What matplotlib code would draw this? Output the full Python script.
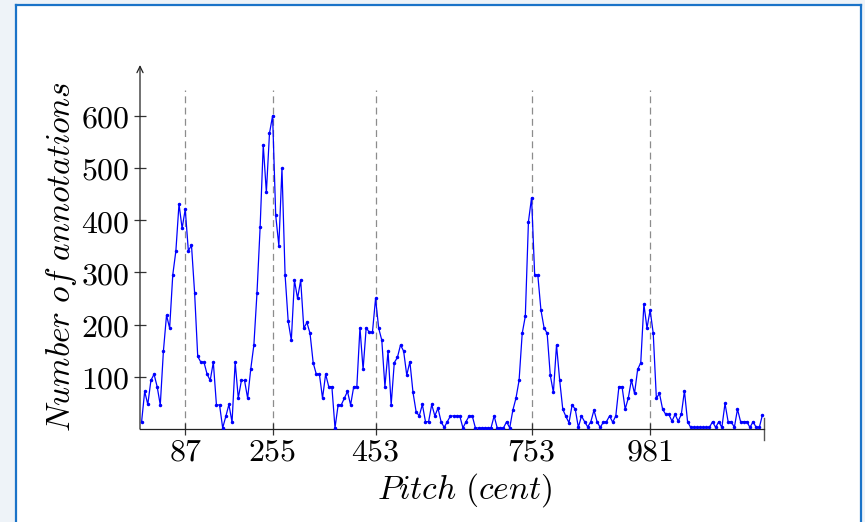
import numpy as np
import matplotlib
matplotlib.use('Agg')
import matplotlib.pyplot as plt

plt.rcParams['mathtext.fontset'] = 'cm'

# histogram of annotated pitches, 6 cent bins
counts_0 = [13, 72, 47, 93, 105, 81, 46, 149, 218, 193, 295, 341, 431, 384, 421, 341, 352, 261, 139, 128,
            128, 105, 93, 128, 46, 46, 2, 24, 47, 13, 128, 59, 93, 93, 59, 115, 161, 261, 386, 544]
counts_1 = [453, 566, 600, 409, 351, 499, 295, 206, 170, 285, 250, 285, 193, 204, 183, 127, 105, 105, 59, 105,
            81, 81, 2, 46, 46, 59, 72, 46, 81, 81, 194, 114, 194, 185, 185, 250, 193, 170, 81, 149]
counts_2 = [46, 127, 137, 161, 149, 103, 129, 70, 33, 25, 47, 14, 14, 47, 25, 40, 14, 3, 14, 25,
            25, 25, 25, 2, 14, 25, 25, 2, 2, 2, 2, 2, 2, 25, 2, 2, 2, 14, 2, 36]
counts_3 = [59, 93, 183, 216, 397, 443, 295, 295, 228, 194, 183, 103, 70, 161, 94, 38, 24, 12, 46, 38,
            3, 25, 14, 4, 14, 36, 14, 3, 13, 14, 25, 13, 25, 81, 81, 38, 59, 94, 68, 114]
counts_4 = [127, 239, 193, 228, 183, 59, 68, 38, 28, 28, 15, 28, 15, 28, 73, 14, 3, 3, 3, 3,
            3, 3, 3, 14, 3, 14, 3, 49, 14, 14, 3, 38, 14, 14, 14, 3, 14, 3, 3, 27]
counts = counts_0 + counts_1 + counts_2 + counts_3 + counts_4
bin_width = 6
pitch = np.arange(len(counts)) * bin_width + bin_width / 2

peaks = [87, 255, 453, 753, 981]
yticks = [100, 200, 300, 400, 500, 600]

fig = plt.figure(figsize=(8.65, 5.22), dpi=100)
fig.patch.set_facecolor('#eef3f8')
# white card with blue border behind the chart
card = fig.add_axes([15.5 / 865, -0.1, 846 / 865, 1.1 - 5.5 / 522], zorder=-10)
card.set_xticks([])
card.set_yticks([])
card.set_facecolor('white')
for s in card.spines.values():
    s.set_color('#1a73c8')
    s.set_linewidth(1.6)

ax = fig.add_axes([140 / 865, 1 - 429 / 522, 624 / 865, 364 / 522])
ax.set_facecolor('none')
ax.set_xlim(0, 1200)
ax.set_ylim(0, 697)

ax.vlines(peaks, 0, 650, colors='#8c8c8c', linestyles=(0, (5.5, 3.5)), lw=0.9, zorder=1)
ax.plot(pitch, counts, color='#0000ff', lw=0.9, marker='.', markersize=3, zorder=3)

for s in ['top', 'right', 'left']:
    ax.spines[s].set_visible(False)
ax.spines['bottom'].set_color('#222222')
ax.spines['bottom'].set_linewidth(0.9)
ax.annotate('', xy=(0, 1), xytext=(0, 0), xycoords='axes fraction',
            arrowprops=dict(arrowstyle='->,head_length=0.45,head_width=0.22', color='#222222', lw=0.9,
                            shrinkA=0, shrinkB=0))
# end mark at the right of the x axis
ax.plot([1, 1], [-0.03, 0.03], transform=ax.transAxes, color='#555555', lw=1, clip_on=False)

ax.set_xticks(peaks)
ax.set_xticklabels(['$%d$' % p for p in peaks])
ax.set_yticks(yticks)
ax.set_yticklabels(['$%d$' % v for v in yticks])
ax.tick_params(axis='both', direction='inout', length=9, width=0.9, color='#333333', labelsize=23)
ax.tick_params(axis='y', pad=3)
ax.tick_params(axis='x', pad=1)

ax.set_xlabel(r'$Pitch\ (cent)$', fontsize=24)
ax.set_ylabel(r'$Number\ of\ annotations$', fontsize=24)
ax.xaxis.set_label_coords(0.52, -0.115)
ax.yaxis.set_label_coords(-0.097, 0.473)

fig.savefig('out.png', dpi=100, facecolor=fig.get_facecolor())
